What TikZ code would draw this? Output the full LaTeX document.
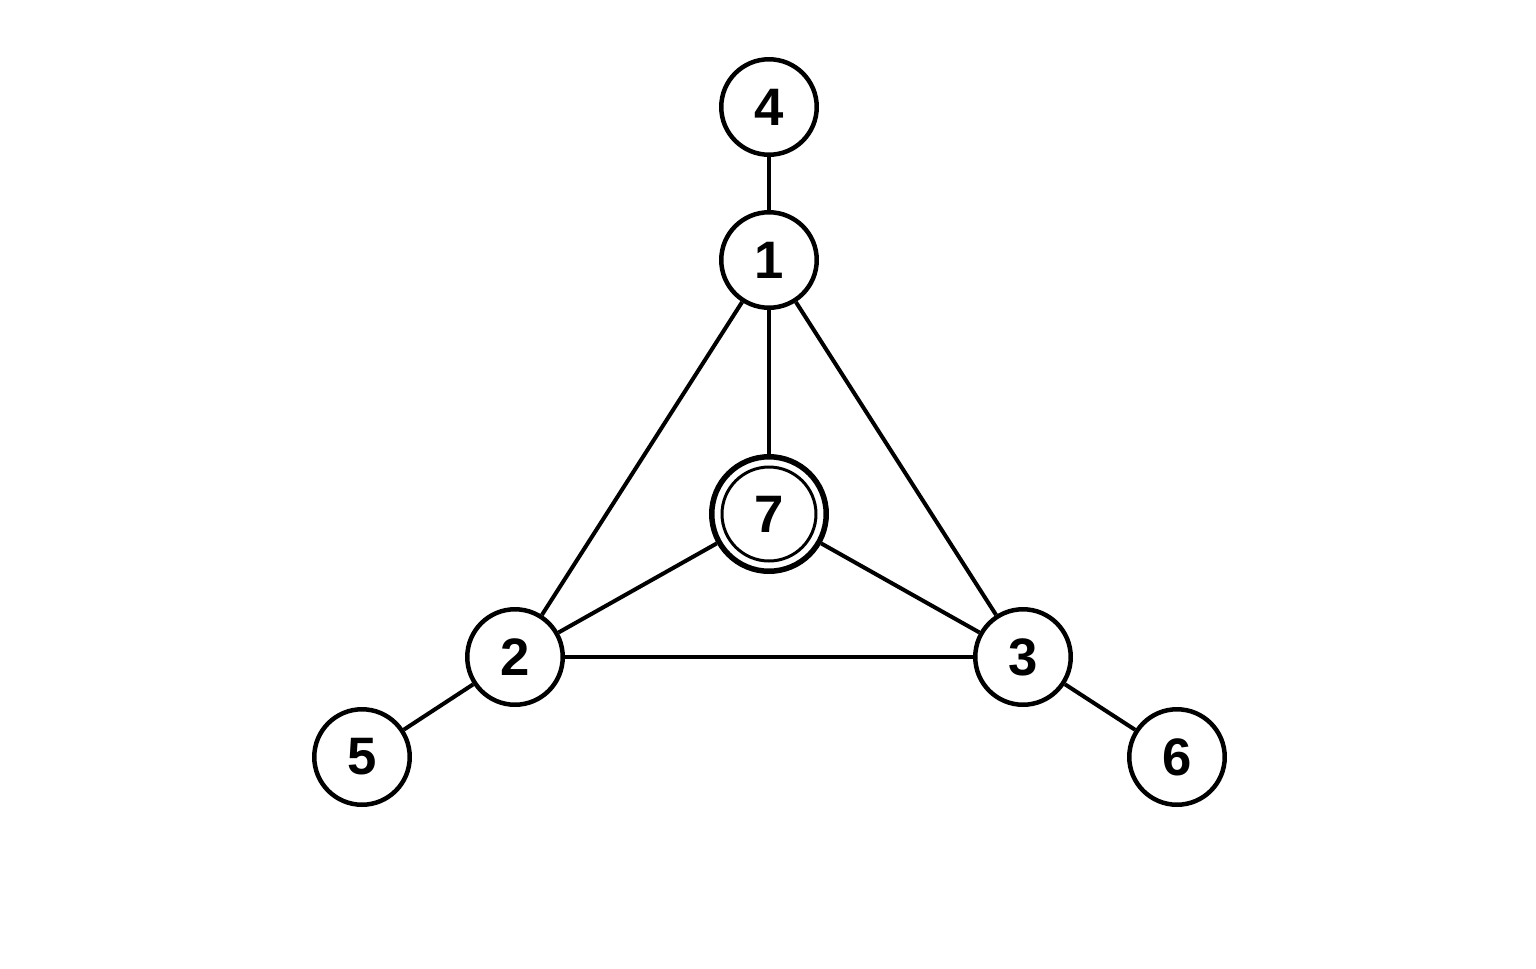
\documentclass[tikz,border=0pt]{standalone}
\usepackage{fontspec}
\setmainfont{Liberation Sans}
\usepackage{tikz}

\begin{document}
\begin{tikzpicture}
                            [x=0.02cm, y=-0.02cm,
                            line width = 0.08cm,
                            vertex/.style = {circle, draw, fill=white,
                                        line width = 0.09cm,
                                        minimum size = 1.91cm,
                                        inner sep = 0pt,
                                        font = \fontsize{30}{35}\selectfont\bfseries},
                            centre/.style = {vertex,
                                        line width = 0.11cm,
                                        minimum size = 2.29cm}]
                            \useasboundingbox (0,0) rectangle (1536,968);
                            % Vertices
                            \node[vertex] (4) at (769,107) {4};
                            \node[vertex] (1) at (769,260) {1};
                            \node[centre] (7) at (769,514) {7};
                            \node[vertex] (2) at (515,657) {2};
                            \node[vertex] (3) at (1023,657) {3};
                            \node[vertex] (5) at (362,757) {5};
                            \node[vertex] (6) at (1177,757) {6};
                            % Inner ring of 7
                            \draw[line width = 0.06cm] (7.center) circle (0.94cm);
                            % Edges
                            \draw (4) -- (1);
                            \draw (1) -- (7);
                            \draw (1) -- (2);
                            \draw (1) -- (3);
                            \draw (2) -- (3);
                            \draw (7) -- (2);
                            \draw (7) -- (3);
                            \draw (2) -- (5);
                            \draw (3) -- (6);
                        \end{tikzpicture}
\end{document}
